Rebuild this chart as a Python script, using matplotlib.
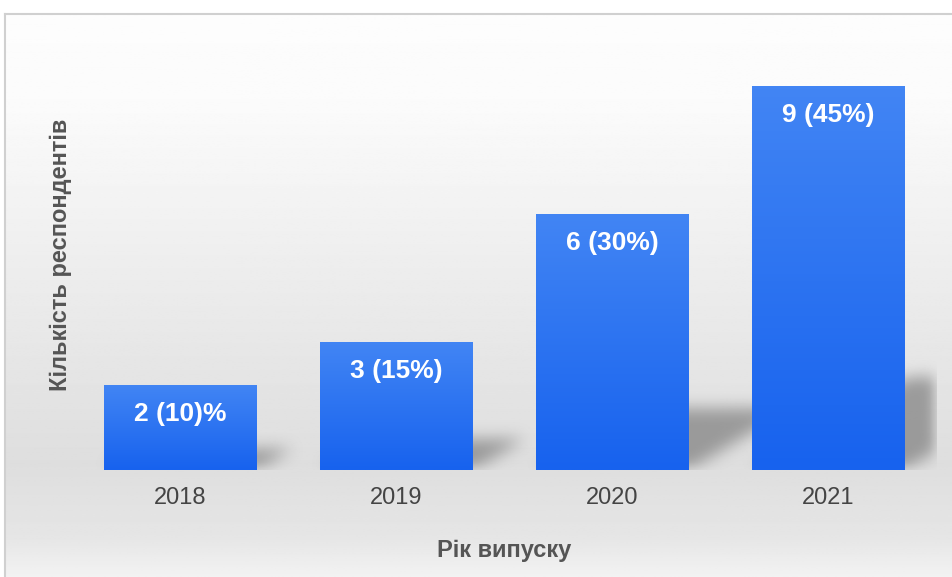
import matplotlib.pyplot as plt
import numpy as np
from matplotlib.path import Path

plt.rcParams['font.family'] = ['Liberation Sans', 'DejaVu Sans']

years = ['2018', '2019', '2020', '2021']
counts = [2, 3, 6, 9]
labels = ['2 (10)%', '3 (15%)', '6 (30%)', '9 (45%)']

W, H = 952, 577
fig = plt.figure(figsize=(W / 100, H / 100), dpi=100)

# background panel with soft vertical gradient and a thin frame at top/left
bg = fig.add_axes([5 / W, 0, 1 - 5 / W, (H - 14) / H], zorder=0)
t = np.linspace(0, 1, 300)
shade = np.interp(t, [0, 0.15, 0.45, 0.8, 0.93, 1.0], [0.99, 0.985, 0.93, 0.87, 0.9, 0.95])
bg.imshow(np.repeat(shade[:, None], 2, axis=1), cmap='gray', vmin=0, vmax=1,
          aspect='auto', extent=[0, 1, 0, 1])
bg.set_xlim(0, 1)
bg.set_ylim(0, 1)
bg.set_xticks([])
bg.set_yticks([])
for s in ['right', 'bottom']:
    bg.spines[s].set_visible(False)
for s in ['top', 'left']:
    bg.spines[s].set_color('#d0d0d0')
    bg.spines[s].set_linewidth(1.5)

ax = fig.add_axes([72.5 / W, (H - 470) / H, 864 / W, 427 / H], zorder=1)
ax.patch.set_alpha(0)
x = np.arange(len(years))
width = 0.708
ax.set_xlim(-0.5, 3.5)
ax.set_ylim(0, 10)

# drop shadows: skewed copy of each bar, blurred
nx, ny = 864, 427
gx = np.linspace(-0.5, 3.5, nx)
gy = np.linspace(0, 10, ny)
XX, YY = np.meshgrid(gx, gy)
pts = np.column_stack([XX.ravel(), YY.ravel()])
mask = np.zeros(XX.shape)
kx, sy = 0.08, 0.24
for xi, v in zip(x, counts):
    x0, x1 = xi - width / 2, xi + width / 2
    poly = Path([(x0, 0), (x1, 0), (x1 + kx * v, sy * v), (x0 + kx * v, sy * v)])
    mask = np.maximum(mask, poly.contains_points(pts).reshape(XX.shape))
k = np.ones(15) / 15
for _ in range(3):
    mask = np.apply_along_axis(lambda r: np.convolve(r, k, mode='same'), 1, mask)
    mask = np.apply_along_axis(lambda r: np.convolve(r, k, mode='same'), 0, mask)
rgba = np.zeros(mask.shape + (4,))
rgba[..., :3] = 0.42
rgba[..., 3] = mask * 0.6
ax.imshow(rgba, origin='lower', extent=[-0.5, 3.5, 0, 10], aspect='auto', zorder=1)

bars = ax.bar(x, counts, width=width, color='#2a71f1', zorder=2)

# vertical gradient inside each bar
grad = np.linspace(0, 1, 100)[:, None]
top_c = np.array([0x42, 0x85, 0xf4]) / 255
bot_c = np.array([0x17, 0x62, 0xee]) / 255
for b, v in zip(bars, counts):
    img = top_c * (1 - grad[..., None]) + bot_c * grad[..., None]
    im = ax.imshow(img, aspect='auto', zorder=3,
                   extent=[b.get_x(), b.get_x() + b.get_width(), 0, v])
    im.set_clip_path(b)

for xi, v, lab in zip(x, counts, labels):
    ax.annotate(lab, (xi, v), xytext=(0, -29), textcoords='offset pixels',
                ha='center', va='center', color='white', fontsize=19,
                fontweight='bold', zorder=4)

ax.set_xticks(x)
ax.set_xticklabels(years, fontsize=17, color='#444444')
ax.tick_params(axis='x', length=0, pad=12)
ax.set_yticks([])
for s in ax.spines.values():
    s.set_visible(False)

ax.set_xlabel('Рік випуску', fontsize=17, fontweight='bold', color='#555555', labelpad=22)
ax.set_ylabel('Кількість респондентів', fontsize=17, fontweight='bold', color='#555555')
ax.yaxis.set_label_coords(-1 / 864, (470 - 255) / 427)

ax.set_xlim(-0.5, 3.5)
ax.set_ylim(0, 10)

fig.savefig('out.png', dpi=100)
